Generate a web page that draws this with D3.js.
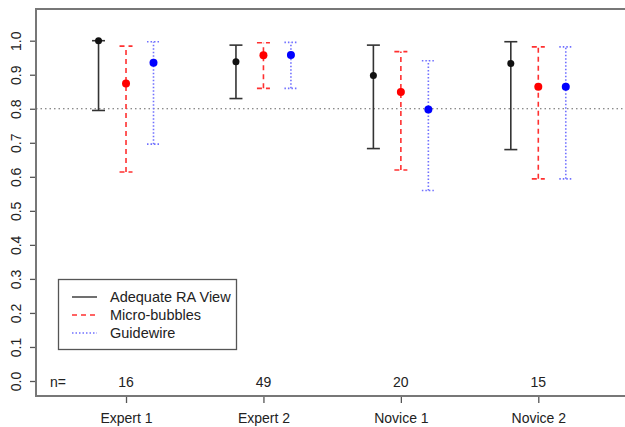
<!DOCTYPE html>
<html>
<head>
<meta charset="utf-8">
<script src="https://cdn.jsdelivr.net/npm/d3@7"></script>
<style>
  body { margin: 0; background: #fff; }
  text { font-family: "Liberation Sans", Arial, sans-serif; fill: #222; }
</style>
</head>
<body>
<svg id="chart" width="625" height="427"></svg>
<script>
const groups = ["Expert 1", "Expert 2", "Novice 1", "Novice 2"];
const counts = [16, 49, 20, 15];
const series = ["Adequate RA View", "Micro-bubbles", "Guidewire"];

// point estimate, lower, upper per group
const adequate = [
  { est: 1.0, lo: 0.795, hi: 1.0 },
  { est: 0.938, lo: 0.830, hi: 0.987 },
  { est: 0.898, lo: 0.683, hi: 0.987 },
  { est: 0.933, lo: 0.680, hi: 0.997 },
];
const bubbles = [
  { est: 0.874, lo: 0.614, hi: 0.984 },
  { est: 0.957, lo: 0.860, hi: 0.994 },
  { est: 0.849, lo: 0.620, hi: 0.968 },
  { est: 0.865, lo: 0.594, hi: 0.982 },
];
const guidewire = [
  { est: 0.935, lo: 0.696, hi: 0.997 },
  { est: 0.958, lo: 0.860, hi: 0.995 },
  { est: 0.798, lo: 0.560, hi: 0.941 },
  { est: 0.865, lo: 0.594, hi: 0.982 },
];
const yTicks = [0, 0.1, 0.2, 0.3, 0.4, 0.5, 0.6, 0.7, 0.8, 0.9, 1.0];
const refLine = 0.8;

const styles = [
  { color: "#111", line: "#333", dash: null, r: 3.5 },
  { color: "#f00", line: "#ff3030", dash: "5,4", r: 4 },
  { color: "#00f", line: "#7070ff", dash: "1.5,2", r: 4 },
];
const offsets = [-0.2, 0, 0.2];

const svg = d3.select("#chart");

const plotLeft = 36, plotTop = 9, plotBottom = 396;

const x = d3.scaleLinear().domain([0.345, 4.66]).range([plotLeft, 629]);
const y = d3.scaleLinear().domain([0, 1]).range([381, 40.7]);

// frame: top line
svg.append("line")
  .attr("x1", plotLeft).attr("x2", 625).attr("y1", plotTop).attr("y2", plotTop)
  .attr("stroke", "#777").attr("stroke-width", 2);

// y axis
const yAxis = svg.append("g")
  .attr("transform", `translate(${plotLeft},0)`)
  .call(d3.axisLeft(y).tickValues(yTicks).tickFormat(d3.format(".1f")).tickSize(6).tickSizeOuter(0));
yAxis.select(".domain").remove();
svg.append("line")
  .attr("x1", plotLeft).attr("x2", plotLeft).attr("y1", plotTop - 1).attr("y2", plotBottom + 1)
  .attr("stroke", "#777").attr("stroke-width", 2);
yAxis.selectAll(".tick line").attr("stroke", "#555").attr("stroke-width", 1.3);
yAxis.selectAll(".tick text")
  .attr("transform", "rotate(-90)")
  .attr("x", 0).attr("y", -20)
  .attr("dy", "0.35em")
  .attr("text-anchor", "middle")
  .style("font-size", "14px")
  .style("font-family", "Liberation Sans, Arial, sans-serif")
  .attr("fill", "#222");

// x axis
const xAxis = svg.append("g")
  .attr("transform", `translate(0,${plotBottom})`)
  .call(d3.axisBottom(x).tickValues([1, 2, 3, 4]).tickFormat((d) => groups[d - 1]).tickSize(7).tickSizeOuter(0));
xAxis.select(".domain").remove();
svg.append("line")
  .attr("x1", plotLeft).attr("x2", 625).attr("y1", plotBottom).attr("y2", plotBottom)
  .attr("stroke", "#777").attr("stroke-width", 2);
xAxis.selectAll(".tick line").attr("stroke", "#555").attr("stroke-width", 1.3);
xAxis.selectAll(".tick text")
  .attr("y", 17)
  .style("font-size", "14px")
  .style("font-family", "Liberation Sans, Arial, sans-serif")
  .attr("fill", "#222");

// reference line
svg.append("line")
  .attr("x1", plotLeft).attr("x2", 625)
  .attr("y1", y(refLine)).attr("y2", y(refLine))
  .attr("stroke", "#666").attr("stroke-width", 1.2)
  .attr("stroke-dasharray", "1.5,3");

// error bars
[adequate, bubbles, guidewire].forEach((data, si) => {
  const st = styles[si];
  const g = svg.append("g");
  data.forEach((d, i) => {
    const cx = x(i + 1 + offsets[si]);
    const cap = 6.5;
    g.append("line")
      .attr("x1", cx).attr("x2", cx).attr("y1", y(d.lo)).attr("y2", y(d.hi))
      .attr("stroke", st.line).attr("stroke-width", 1.6)
      .attr("stroke-dasharray", st.dash);
    [d.lo, d.hi].forEach((v) => {
      g.append("line")
        .attr("x1", cx - cap).attr("x2", cx + cap).attr("y1", y(v)).attr("y2", y(v))
        .attr("stroke", st.line).attr("stroke-width", 1.6)
        .attr("stroke-dasharray", st.dash);
    });
    g.append("circle")
      .attr("cx", cx).attr("cy", y(d.est)).attr("r", st.r)
      .attr("fill", st.color);
  });
});

// n= labels
svg.append("text")
  .attr("x", 50).attr("y", y(0) + 6)
  .style("font-size", "14px")
  .text("n=");
svg.selectAll(".count").data(counts).enter().append("text")
  .attr("class", "count")
  .attr("x", (d, i) => x(i + 1))
  .attr("y", y(0) + 6)
  .attr("text-anchor", "middle")
  .style("font-size", "14px")
  .text((d) => d);

// legend
const legend = svg.append("g");
legend.append("rect")
  .attr("x", 58.5).attr("y", 279.5).attr("width", 178).attr("height", 70)
  .attr("fill", "#fff").attr("stroke", "#555").attr("stroke-width", 1.3);
series.forEach((s, i) => {
  const ly = 297 + i * 18;
  legend.append("line")
    .attr("x1", 72).attr("x2", 97).attr("y1", ly).attr("y2", ly)
    .attr("stroke", styles[i].line).attr("stroke-width", 1.4)
    .attr("stroke-dasharray", styles[i].dash);
  legend.append("text")
    .attr("x", 110).attr("y", ly + 5)
    .style("font-size", "14.5px")
    .text(s);
});
</script>
</body>
</html>
